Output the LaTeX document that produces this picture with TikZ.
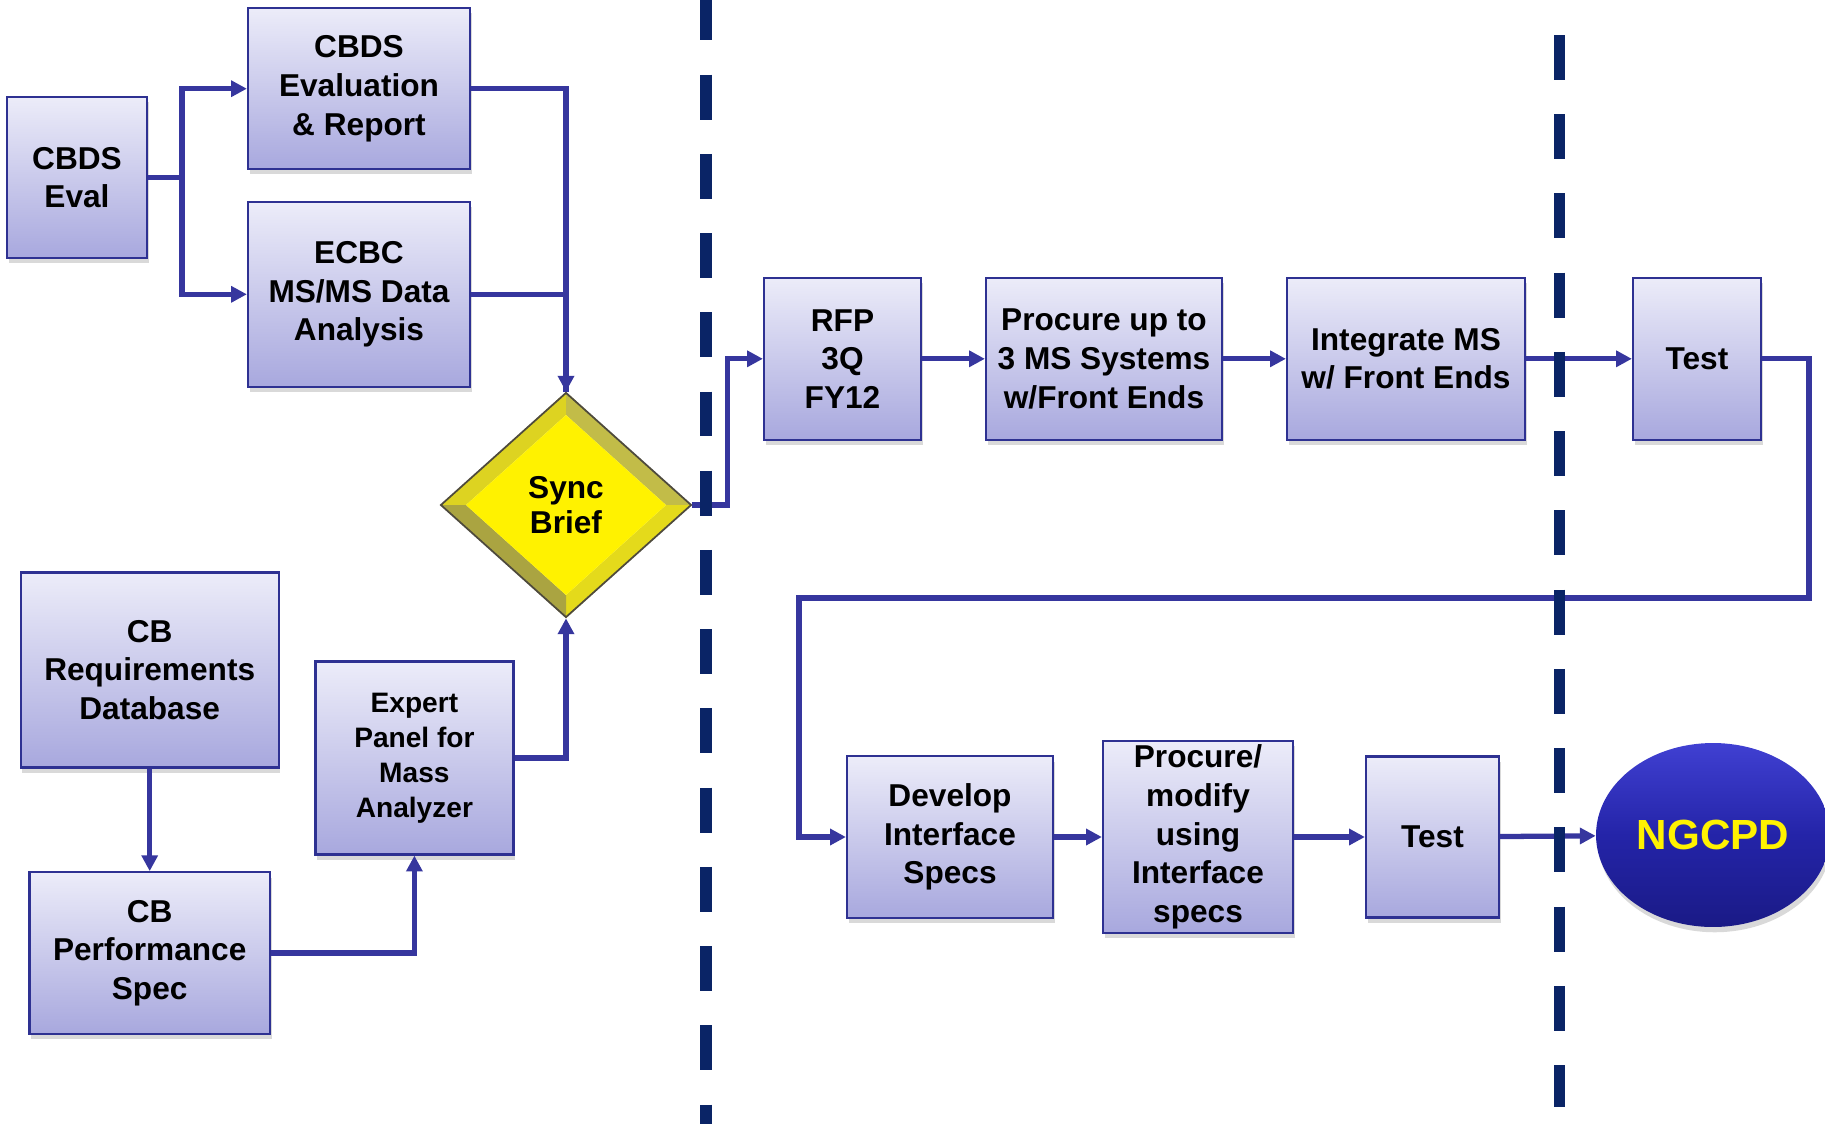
\documentclass[tikz,border=0pt]{standalone}
\usepackage{fontspec}
\setmainfont{Liberation Sans}
\usetikzlibrary{shapes.geometric, arrows.meta, shadows}
\definecolor{boxtop}{HTML}{ECECF9}
\definecolor{boxbot}{HTML}{A8A8DE}
\definecolor{boxline}{HTML}{2E3192}
\definecolor{flow}{HTML}{36369E}
\definecolor{navy}{HTML}{0A2466}
\definecolor{goaltop}{HTML}{4040D2}
\definecolor{goalmid}{HTML}{2424A8}
\definecolor{goalbot}{HTML}{1A1A86}
\tikzstyle{arrow} = [line width=3pt,draw=flow,-{Triangle[length=9pt,width=9pt]}]
\tikzstyle{link} = [line width=3pt,draw=flow]
\begin{document}
\begin{tikzpicture}
        [
            x=0.02cm, y=-0.02cm,
            box/.style={rectangle,draw=boxline,line width=1.3pt,top color=boxtop,bottom color=boxbot,
                align=center,inner sep=0pt,font=\fontsize{18}{22}\selectfont\bfseries,
                drop shadow={shadow xshift=1pt,shadow yshift=-3pt,opacity=0.3}},
            phase/.style={line width=6.3pt,draw=navy,dash pattern=on 25.6pt off 19.5pt},
            goal/.style={ellipse,top color=goaltop,bottom color=goalbot,middle color=goalmid,
                text=yellow,font=\fontsize{24}{28}\selectfont\bfseries,inner sep=0pt,
                drop shadow={shadow xshift=1pt,shadow yshift=-3pt,opacity=0.3}},
        ]
    \useasboundingbox (0,0) rectangle (1825,1123);

    % left side
    \node[box,minimum width=2.8cm,minimum height=3.22cm] (eval) at (77,177.5){CBDS\\Eval};
    \node[box,minimum width=4.44cm,minimum height=3.22cm] (evalrep) at (359,88.7){CBDS\\Evaluation\\\& Report};
    \node[box,minimum width=4.44cm,minimum height=3.7cm] (ecbc) at (359,294.3){ECBC\\MS/MS Data\\Analysis};
    \node[box,minimum width=5.16cm,minimum height=3.9cm] (creq) at (149.7,670){CB\\Requirements\\Database};
    \node[box,minimum width=4.81cm,minimum height=3.23cm] (cperf) at (149.7,953){CB\\Performance\\Spec};
    \node[box,minimum width=3.96cm,minimum height=3.86cm,font=\fontsize{16}{20}\selectfont\bfseries] (expert) at (414.4,758){Expert\\Panel for\\Mass\\Analyzer};

    % sync diamond
    \fill[yellow!85!black] (566,392) -- (441,505) -- (466,505) -- (566,415) -- cycle;
    \fill[yellow!70!black!90!white] (566,392) -- (691,505) -- (666,505) -- (566,415) -- cycle;
    \fill[yellow!88!black] (691,505) -- (566,618) -- (566,595) -- (666,505) -- cycle;
    \fill[yellow!62!black] (566,618) -- (441,505) -- (466,505) -- (566,595) -- cycle;
    \fill[yellow] (566,415) -- (666,505) -- (566,595) -- (466,505) -- cycle;
    \node[diamond,draw=black!80!yellow,line width=1pt,minimum width=5.02cm,minimum height=4.5cm,inner sep=0pt,
        align=center,font=\fontsize{18}{20}\selectfont\bfseries] (sync) at (566,505){Sync\\Brief};

    % right side
    \node[box,minimum width=3.14cm,minimum height=3.24cm] (rfp) at (842.5,358.8){RFP\\3Q\\FY12};
    \node[box,minimum width=4.72cm,minimum height=3.24cm] (procure) at (1104,358.8){Procure up to\\3 MS Systems\\w/Front Ends};
    \node[box,minimum width=4.76cm,minimum height=3.24cm] (integ) at (1406,358.8){Integrate MS\\w/ Front Ends};
    \node[box,minimum width=2.56cm,minimum height=3.24cm] (test1) at (1697,358.8){Test};
    \node[box,minimum width=4.12cm,minimum height=3.23cm] (devel) at (950,837){Develop\\Interface\\Specs};
    \node[box,minimum width=3.8cm,minimum height=3.84cm] (procmod) at (1198,837){Procure/\\modify\\using\\Interface\\specs};
    \node[box,minimum width=2.66cm,minimum height=3.22cm] (test2) at (1432.5,837){Test};
    \node[goal,minimum width=4.68cm,minimum height=3.68cm] (ngcpd) at (1713,835){NGCPD};

    % connectors
    \coordinate (split) at (182,177.5);
    \draw[link] (eval.east) -- (split);
    \draw[arrow] (split) |- (evalrep.west);
    \draw[arrow] (split) |- (ecbc.west);
    \draw[link] (ecbc.east) -| (sync.north);
    \draw[arrow] (evalrep.east) -| (sync.north);
    \draw[arrow] (creq.south) -- (cperf.north);
    \draw[arrow] (cperf.east) -| (expert.south);
    \draw[arrow] (expert.east) -| (sync.south);
    \coordinate (up) at (727.5,505);
    \draw[arrow] (sync.east) -- (up) |- (rfp.west);
    \draw[arrow] (rfp) -- (procure);
    \draw[arrow] (procure) -- (integ);
    \draw[arrow] (integ) -- (test1);
    \coordinate (backR) at (1809,598);
    \coordinate (backL) at (799,598);
    \draw[arrow] (test1.east) -| (backR) -- (backL) |- (devel.west);
    \draw[arrow] (devel) -- (procmod);
    \draw[arrow] (procmod) -- (test2);
    \draw[arrow] (test2) -- (ngcpd);

    % phase lines
    \draw[phase] (706,-4.7) -- (706,1130);
    \draw[phase] (1559.5,35) -- (1559.5,1107);
    \end{tikzpicture}
\end{document}
